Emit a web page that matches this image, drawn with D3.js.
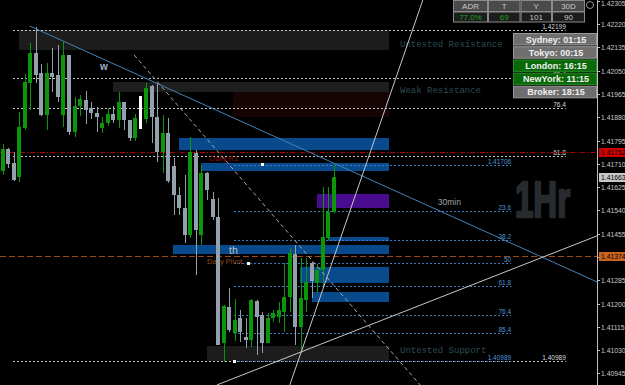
<!DOCTYPE html>
<html><head><meta charset="utf-8">
<script src="https://cdn.jsdelivr.net/npm/d3@7"></script>
<style>html,body{margin:0;padding:0;background:#000;overflow:hidden}svg{display:block}</style>
</head><body>
<svg id="c" width="625" height="385"></svg>
<script>
// ---------- DATA ----------
const opens = [1.41684,1.41764,1.41713,1.41662,1.41841,1.42005,1.42115,1.42042,1.41888,1.42042,
1.42034,1.41888,1.42107,1.41826,1.41921,1.41943,1.41914,1.41896,1.41841,1.41859,
1.41892,1.41870,1.41936,1.41870,1.41804,1.41837,1.41874,1.41994,1.41881,1.41753,
1.41823,1.41702,1.41596,1.41549,1.41450,1.41750,1.41450,1.41677,1.41582,1.41516,
1.41056,1.41187,1.41093,1.41147,1.41078,1.41067,1.41209,1.41158,1.41056,1.41147,
1.41151,1.41169,1.41224,1.41381,1.41114,1.41213,1.41348,1.41275,1.41323,1.41439,
1.41534];
const highs = [1.41782,1.41768,1.41753,1.41899,1.42038,1.42151,1.42209,1.42074,1.42078,1.42133,
1.42144,1.42155,1.42107,1.41954,1.41961,1.41976,1.41936,1.41917,1.41881,1.41914,
1.41921,1.41972,1.41936,1.41870,1.41892,1.41958,1.42005,1.41998,1.42005,1.41888,
1.41877,1.41731,1.41625,1.41669,1.41808,1.41761,1.41706,1.41680,1.41607,1.41585,
1.41195,1.41257,1.41217,1.41177,1.41147,1.41217,1.41213,1.41169,1.41166,1.41177,
1.41206,1.41348,1.41403,1.41414,1.41366,1.41366,1.41352,1.41344,1.41624,1.41624,
1.41706];
const lows = [1.41669,1.41695,1.41647,1.41644,1.41834,1.41907,1.42005,1.41885,1.41834,1.41972,
1.41936,1.41844,1.41815,1.41808,1.41885,1.41855,1.41874,1.41826,1.41823,1.41848,
1.41859,1.41841,1.41834,1.41793,1.41793,1.41837,1.41859,1.41786,1.41717,1.41677,
1.41640,1.41523,1.41523,1.41421,1.41439,1.41304,1.41414,1.41578,1.41505,1.41049,
1.40987,1.41096,1.41063,1.41060,1.41038,1.41041,1.41012,1.41020,1.41056,1.41133,
1.41129,1.41096,1.41169,1.41049,1.41020,1.41169,1.41220,1.41239,1.41260,1.41432,
1.41531];
const closes = [1.41764,1.41709,1.41651,1.41844,1.42009,1.42115,1.42034,1.41888,1.42042,1.42027,
1.41954,1.42107,1.41826,1.41921,1.41947,1.41907,1.41896,1.41881,1.41859,1.41892,
1.41870,1.41936,1.41870,1.41804,1.41877,1.41958,1.41987,1.41881,1.41753,1.41823,
1.41647,1.41596,1.41549,1.41450,1.41753,1.41469,1.41677,1.41615,1.41516,1.41049,
1.41191,1.41104,1.41140,1.41096,1.41067,1.41213,1.41151,1.41056,1.41147,1.41166,
1.41177,1.41224,1.41385,1.41114,1.41220,1.41279,1.41282,1.41323,1.41443,1.41534,
1.41663];
const markedCandle = 25;

const priceTicks = [1.42305,1.42220,1.42135,1.42050,1.41965,1.41880,1.41795,1.41710,1.41625,
1.41540,1.41455,1.41370,1.41285,1.41200,1.41115,1.41030,1.40945];

const dailyR1 = 1.41752, dailyPivot = 1.41374, lastPrice = 1.41663;

// zones (start index, high, low); all run to zoneEnd
const zoneKinds = ["untested","weak","weakShade","supply","supply","purple","supply","supply","supply","supply","untested"];
const zoneFrom  = [2.94,19.97,41.7,31.9,35.9,56.9,58.9,30.8,53.8,56.0,37.0];
const zoneHigh  = [1.42199,1.42009,1.41972,1.41806,1.41713,1.41600,1.41443,1.41412,1.41333,1.41242,1.41045];
const zoneLow   = [1.42126,1.41972,1.41881,1.41761,1.41684,1.41549,1.41428,1.41381,1.41275,1.41204,1.40990];
const zoneEnd = 69.9;
const zoneLabels = ["Untested Resistance","Weak Resistance","Untested Support"];
const zoneLabelPrices = [1.42136,1.41969,1.41020];

// fibonacci sets
const fibBlueHigh = 1.41706, fibBlueLow = 1.40989;
const fibBlueLevels = [0,23.6,38.2,50,61.8,76.4,85.4,100];
const fibBlueLabels = ["1.41706","23.6","38.2","50","61.8","76.4","85.4","1.40989"];
const fibWhiteHigh = 1.42199, fibWhiteLow = 1.40989;
const fibWhiteLevels = [100,85.4,76.4,61.8,0];
const fibWhiteLabels = ["1.42199","85.4","76.4","61.8","1.40989"];

// trend lines: [index, price] pairs
const trendBlue   = [[4.9,1.42213],[107.65,1.41279]];
const trendDashed = [[23.8,1.42107],[75.6,1.40903]];
const trendSteep  = [[76.1,1.42308],[52.0,1.40903]];
const trendRising = [[38.8,1.40903],[107.65,1.41447]];
const markers = [[46.9,1.41709],[44.4,1.41347],[41.9,1.40990]];

// info panels
const adrHeaders = ["ADR","T","Y","30D"];
const adrValues = ["77.0%","69","101","90"];
const sessionNames = ["Sydney","Tokyo","London","NewYork","Broker"];
const sessionTimes = ["01:15","00:15","16:15","11:15","18:15"];
const sessionOpen = [false,false,true,true,false];

// ---------- DRAW ----------
const W = 625, H = 385, axisX = 597;
const x = d3.scaleLinear().domain([-0.5, 107.65]).range([0, axisX]);
const y = d3.scaleLinear().domain([1.42308, 1.42308 - 385*0.0000365]).range([0, 385]);
const svg = d3.select("#c");
svg.append("rect").attr("width", W).attr("height", H).attr("fill", "#000");
const FONT = "Liberation Sans, Arial, sans-serif";

const plot = svg.append("g");
const zoneColor = {untested:"#1c1c1c", weak:"#1d1f1f", weakShade:"#170505", supply:"#084a8c", purple:"#4a0c8e"};

// zones
plot.append("g").selectAll("rect").data(zoneKinds).join("rect")
  .attr("x", (d,i) => Math.round(x(zoneFrom[i])))
  .attr("y", (d,i) => Math.round(y(zoneHigh[i])))
  .attr("width", (d,i) => Math.round(x(zoneEnd)) - Math.round(x(zoneFrom[i])))
  .attr("height", (d,i) => Math.max(2, Math.round(y(zoneLow[i])) - Math.round(y(zoneHigh[i]))))
  .attr("fill", d => zoneColor[d]);

// zone labels
plot.append("g").selectAll("text").data(zoneLabels).join("text")
  .attr("x", x(71.96)).attr("y", (d,i) => y(zoneLabelPrices[i]))
  .attr("fill", "#2b4c52").attr("font-family", "Liberation Mono, monospace").attr("font-size", 9)
  .text(d => d);

// white fib
const wf = plot.append("g");
fibWhiteLevels.forEach((lv, i) => {
  const p = fibWhiteLow + (fibWhiteHigh - fibWhiteLow) * lv / 100;
  const yy = Math.round(y(p)) + 0.5;
  wf.append("line").attr("x1", x(1.86)).attr("x2", x(102)).attr("y1", yy).attr("y2", yy)
    .attr("stroke", "#c8c8c8").attr("stroke-width", 1).attr("stroke-dasharray", "2,2");
  wf.append("text").attr("x", x(102)).attr("y", yy - 2).attr("text-anchor", "end")
    .attr("fill", "#d8d8d8").attr("font-family", FONT).attr("font-size", 6.5)
    .text(fibWhiteLabels[i]);
});

// blue fib
const bf = plot.append("g");
fibBlueLevels.forEach((lv, i) => {
  const p = fibBlueHigh - (fibBlueHigh - fibBlueLow) * lv / 100;
  const yy = Math.round(y(p)) + 0.5;
  bf.append("line").attr("x1", x(41.9)).attr("x2", x(92.1)).attr("y1", yy).attr("y2", yy)
    .attr("stroke", "#3d7dc0").attr("stroke-width", 1).attr("stroke-dasharray", "2,2");
  bf.append("text").attr("x", x(92.1)).attr("y", yy - 2).attr("text-anchor", "end")
    .attr("fill", "#4f93d6").attr("font-family", FONT).attr("font-size", 6.5)
    .text(fibBlueLabels[i]);
});

// daily R1 and pivot
const r1y = Math.round(y(dailyR1)) + 0.5;
plot.append("line").attr("x1", 0).attr("x2", axisX).attr("y1", r1y).attr("y2", r1y)
  .attr("stroke", "#b00000").attr("stroke-dasharray", "5,2,1,2");
plot.append("text").attr("x", x(37.5)).attr("y", r1y + 8).attr("fill", "#960c0c")
  .attr("font-family", FONT).attr("font-size", 7.5).text("Daily R1");
const pvy = Math.round(y(dailyPivot)) + 0.5;
plot.append("line").attr("x1", 0).attr("x2", axisX).attr("y1", pvy).attr("y2", pvy)
  .attr("stroke", "#9a4a16").attr("stroke-dasharray", "6,3");
plot.append("text").attr("x", x(37)).attr("y", pvy + 7.5).attr("fill", "#9a4a16")
  .attr("font-family", FONT).attr("font-size", 7.5).text("Daily Pivot");

// candles
const cg = plot.append("g").attr("shape-rendering", "crispEdges");
opens.forEach((o, i) => {
  const c = closes[i];
  const col = i === markedCandle ? "#ffffff" : (c > o ? "#0c960c" : "#95a0ad");
  const cx = Math.round(x(i));
  cg.append("rect").attr("x", cx).attr("width", 1)
    .attr("y", Math.round(y(highs[i]))).attr("height", Math.max(1, Math.round(y(lows[i])) - Math.round(y(highs[i]))))
    .attr("fill", col);
  const top = Math.round(y(Math.max(o, c))), bot = Math.round(y(Math.min(o, c)));
  cg.append("rect").attr("x", cx - 2).attr("width", i === markedCandle ? 2 : 4)
    .attr("y", top).attr("height", Math.max(1, bot - top)).attr("fill", col);
});

// trend lines
const ln = d3.line().x(d => x(d[0])).y(d => y(d[1]));
plot.append("path").attr("d", ln(trendBlue)).attr("stroke", "#4682b4").attr("fill", "none");
plot.append("path").attr("d", ln(trendDashed)).attr("stroke", "#a8a8a8").attr("stroke-dasharray", "4,3").attr("fill", "none");
plot.append("path").attr("d", ln(trendSteep)).attr("stroke", "#c8c8c8").attr("fill", "none");
plot.append("path").attr("d", ln(trendRising)).attr("stroke", "#c8c8c8").attr("fill", "none");

// markers
plot.append("g").selectAll("rect").data(markers).join("rect")
  .attr("x", d => Math.round(x(d[0])) - 1).attr("y", d => Math.round(y(d[1])) - 1)
  .attr("width", 3).attr("height", 3).attr("fill", "#fff");

// texts
plot.append("text").attr("x", x(17.6)).attr("y", y(1.42053)).attr("fill", "#9cb0c6")
  .attr("font-family", FONT).attr("font-weight", "bold").attr("font-size", 10).text("w");
plot.append("text").attr("x", x(41)).attr("y", y(1.41380)).attr("fill", "#b8c0ca")
  .attr("font-family", FONT).attr("font-size", 10.5).text("th");
plot.append("text").attr("x", x(78.8)).attr("y", y(1.41560)).attr("fill", "#a0a0a0")
  .attr("font-family", FONT).attr("font-size", 8.5).text("30min");
plot.append("text").attr("x", x(92.8)).attr("y", y(1.41516)).attr("fill", "#272b2f")
  .attr("stroke", "#272b2f").attr("stroke-width", 2.5).attr("stroke-linejoin", "round")
  .attr("font-family", FONT).attr("font-weight", "bold").attr("font-size", 50)
  .attr("textLength", 55).attr("lengthAdjust", "spacingAndGlyphs").text("1Hr");

// axis
const ax = svg.append("g");
ax.append("line").attr("x1", axisX + 0.5).attr("x2", axisX + 0.5).attr("y1", 0).attr("y2", H).attr("stroke", "#c0c0c0");
priceTicks.forEach(p => {
  const yy = Math.round(y(p)) + 0.5;
  ax.append("line").attr("x1", axisX).attr("x2", axisX + 3).attr("y1", yy).attr("y2", yy).attr("stroke", "#c0c0c0");
  ax.append("text").attr("x", 601).attr("y", Math.max(6, yy + 2.4)).attr("fill", "#c8c8c8")
    .attr("font-family", FONT).attr("font-size", 6.8).text(p.toFixed(5));
});
const tags = [[dailyR1, "#d00000", "#000"], [lastPrice, "#c8c8c8", "#000"], [dailyPivot, "#c8641e", "#000"]];
tags.forEach(t => {
  const yy = Math.round(y(t[0]));
  ax.append("rect").attr("x", 599).attr("y", yy - 4).attr("width", 26).attr("height", 9).attr("fill", t[1]);
  ax.append("text").attr("x", 601).attr("y", yy + 2.8).attr("fill", t[2])
    .attr("font-family", FONT).attr("font-size", 6.8).text(t[0].toFixed(5));
});

// ADR table
const colX = [453, 488, 520.5, 552, 585];
const tb = svg.append("g");
adrHeaders.forEach((h, i) => {
  tb.append("rect").attr("x", colX[i] + 0.5).attr("y", 0.5).attr("width", colX[i+1] - colX[i] - 1).attr("height", 11)
    .attr("fill", "#4a4a4a").attr("stroke", "#8a8a8a");
  tb.append("text").attr("x", (colX[i] + colX[i+1]) / 2).attr("y", 9).attr("text-anchor", "middle")
    .attr("fill", "#c8c8c8").attr("font-family", FONT).attr("font-size", 8).text(h);
  tb.append("rect").attr("x", colX[i] + 0.5).attr("y", 12).attr("width", colX[i+1] - colX[i] - 1).attr("height", 10)
    .attr("fill", "#1c1c1c").attr("stroke", "#8a8a8a");
  tb.append("text").attr("x", (colX[i] + colX[i+1]) / 2).attr("y", 20).attr("text-anchor", "middle")
    .attr("fill", i < 2 ? "#1fa01f" : "#c8c8c8").attr("font-family", FONT).attr("font-size", 8).text(adrValues[i]);
});
tb.append("circle").attr("cx", 590).attr("cy", 5).attr("r", 3.5).attr("fill", "none").attr("stroke", "#9a9a9a");

// session boxes
const sb = svg.append("g");
sessionNames.forEach((s, i) => {
  const top = 33 + i * 13.2;
  sb.append("rect").attr("x", 513.5).attr("y", top + 0.5).attr("width", 83).attr("height", 11.5)
    .attr("fill", sessionOpen[i] ? "#0a6a0a" : "#6e6e6e").attr("stroke", sessionOpen[i] ? "#2a8a2a" : "#9a9a9a");
  sb.append("text").attr("x", 556).attr("y", top + 9.5).attr("text-anchor", "middle")
    .attr("fill", "#f0f0f0").attr("font-family", FONT).attr("font-weight", "bold").attr("font-size", 9)
    .text(s + ": " + sessionTimes[i]);
});
</script>
</body></html>
